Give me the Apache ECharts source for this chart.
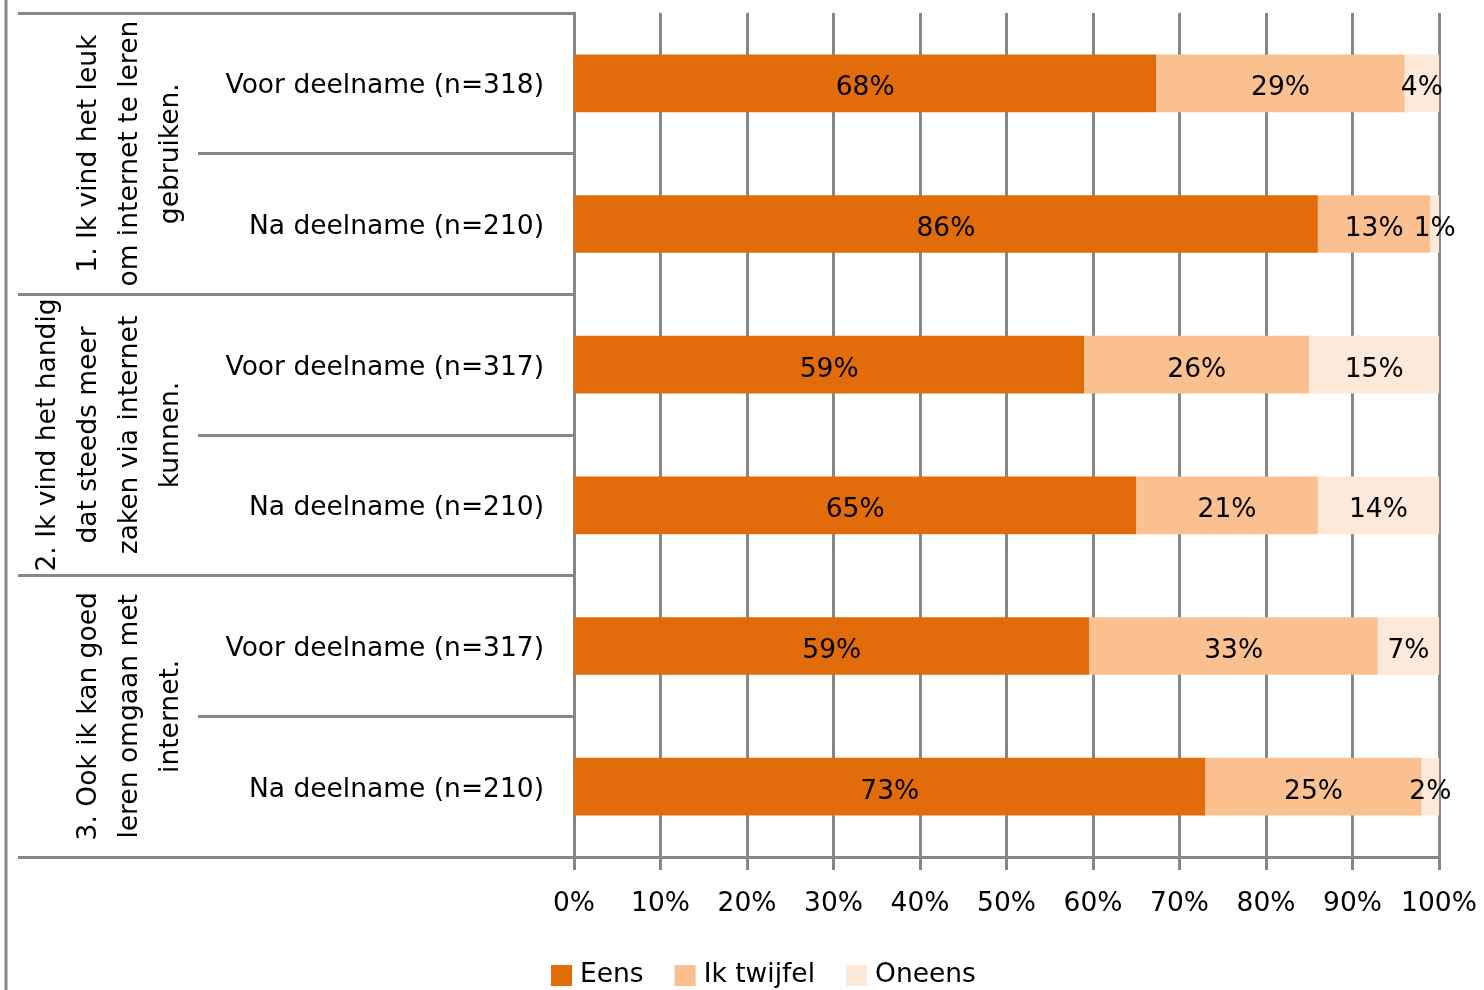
<!DOCTYPE html>
<html>
<head>
<meta charset="utf-8">
<script src="https://cdn.jsdelivr.net/npm/echarts@6/dist/echarts.min.js"></script>
<style>
  html, body { margin: 0; padding: 0; background: #fff; }
  #main { width: 1484px; height: 990px; }
</style>
</head>
<body>
<div id="main"></div>
<script>
// categorieen (binnenste en buitenste as)
var subLabels = ['Voor deelname (n=318)', 'Na deelname (n=210)',
                 'Voor deelname (n=317)', 'Na deelname (n=210)',
                 'Voor deelname (n=317)', 'Na deelname (n=210)'];
var groupLabels = ['1. Ik vind het leuk\nom internet te leren\ngebruiken.',
                   '2. Ik vind het handig\ndat steeds meer\nzaken via internet\nkunnen.',
                   '3. Ook ik kan goed\nleren omgaan met\ninternet.'];
var seriesNames = ['Eens', 'Ik twijfel', 'Oneens'];
// percentages zoals in de labels
var eens    = [68, 86, 59, 65, 59, 73];
var twijfel = [29, 13, 26, 21, 33, 25];
var oneens  = [4, 1, 15, 14, 7, 2];
var xTicks = [0, 10, 20, 30, 40, 50, 60, 70, 80, 90, 100];

var colors = ['#E36C0A', '#FAC090', '#FDE9D9'];
var raw = [eens, twijfel, oneens];
var font = 'DejaVu Sans';
var fs = 26.5;
var lineCol = '#878787';

// 100% gestapeld: normaliseren per rij
var totals = eens.map(function (v, i) { return v + twijfel[i] + oneens[i]; });

var chartDom = document.getElementById('main');
var myChart = echarts.init(chartDom);
var option = {
    animation: false,
    textStyle: { fontFamily: font },
    grid: { left: 574, right: 45, top: 13, bottom: 133, containLabel: false, outerBoundsMode: 'none' },
    legend: {
        left: 551, top: 962, padding: 0,
        icon: 'rect', itemWidth: 21, itemHeight: 21, itemGap: 31,
        textStyle: { fontFamily: font, fontSize: fs, color: '#000', padding: [4, 0, 0, 3] },
        data: seriesNames
    },
    xAxis: {
        type: 'value', min: 0, max: 100, interval: 10,
        axisLine: { show: true, lineStyle: { color: lineCol, width: 3 } },
        axisTick: { show: true, length: 13, lineStyle: { color: lineCol, width: 3 } },
        splitLine: { show: true, lineStyle: { color: lineCol, width: 3 } },
        axisLabel: {
            margin: 34, fontSize: fs, color: '#000', fontFamily: font,
            formatter: function (v) { return xTicks.indexOf(v) >= 0 ? v + '%' : ''; }
        }
    },
    yAxis: [{
        type: 'category', inverse: true, data: subLabels,
        axisLine: { show: true, lineStyle: { color: lineCol, width: 3 } },
        axisTick: { show: true, length: 376, interval: 0, lineStyle: { color: lineCol, width: 3 } },
        axisLabel: {
            interval: 0, margin: 30, color: '#000',
            formatter: function (v) { return '{t|' + v + '}'; },
            rich: { t: { fontSize: fs, fontFamily: font, color: '#000', padding: [6, 0, 0, 0] } }
        }
    }, {
        type: 'category', inverse: true, position: 'left', data: groupLabels,
        axisLine: { show: false },
        axisTick: { show: true, length: 556, interval: 0, lineStyle: { color: lineCol, width: 3 } },
        axisLabel: {
            interval: 0, rotate: 90, margin: 382, align: 'center', verticalAlign: 'bottom',
            fontSize: fs, lineHeight: 41, color: '#000', fontFamily: font
        }
    }],
    graphic: [{
        type: 'line', shape: { x1: 6, y1: 0, x2: 6, y2: 990 },
        style: { stroke: lineCol, lineWidth: 3 }
    }],
    series: raw.map(function (arr, s) {
        return {
            name: seriesNames[s], type: 'bar', stack: 'tot', yAxisIndex: 0,
            barWidth: '41%',
            itemStyle: { color: colors[s] },
            label: {
                show: true, position: 'inside', offset: [0, 5],
                fontSize: fs, color: '#000', fontFamily: font,
                formatter: function (p) { return arr[p.dataIndex] + '%'; }
            },
            data: arr.map(function (v, i) { return v / totals[i] * 100; })
        };
    })
};
option && myChart.setOption(option);
</script>
</body>
</html>
